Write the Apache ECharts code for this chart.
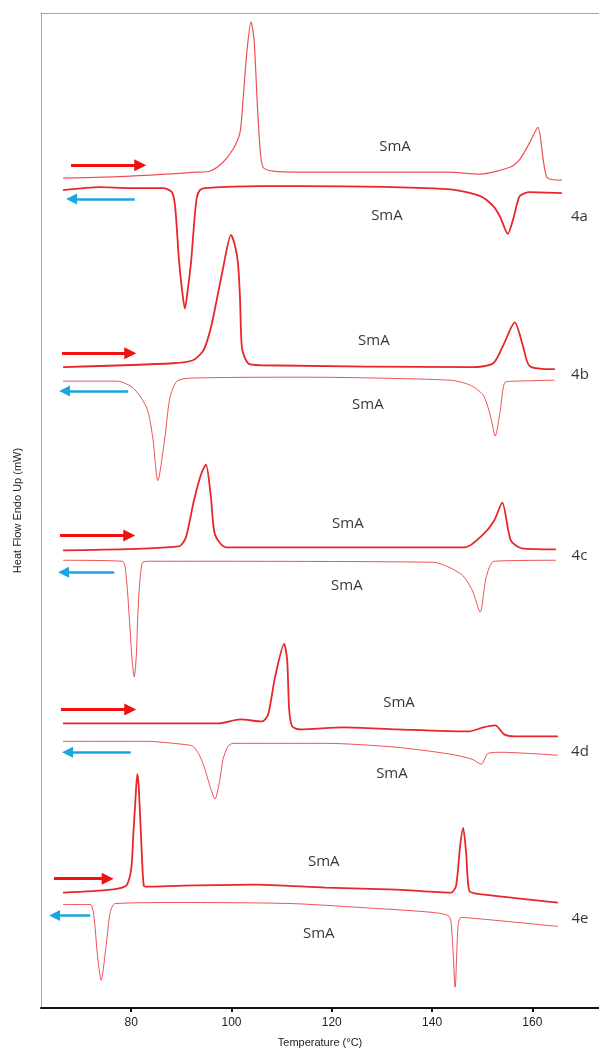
<!DOCTYPE html>
<html>
<head>
<meta charset="utf-8">
<script src="https://cdn.jsdelivr.net/npm/echarts@6/dist/echarts.min.js"></script>
<style>
  html, body { margin: 0; padding: 0; background: #fff; }
  #chart { width: 599px; height: 1053px; }
</style>
</head>
<body>
<div id="chart"></div>
<script>
// temperature (°C) vs heat flow (arbitrary offset units, endo up)
const tickLabels = [80, 100, 120, 140, 160];

const heating4a = [[66.4,834],[79.8,836],[93.1,840],[95.7,841],[98.3,850],[100.3,863],[101.7,880],[102.3,913],[103.1,963],[103.9,991],[104.5,973],[105.1,913],[105.7,863],[106.3,845],[108.3,841],[113.7,840],[143.0,840],[149.6,838],[155.5,845],[157.5,853],[159.5,870],[161.1,885],[162.9,835],[165.9,832]];
const cooling4a = [[66.4,822],[73.8,825],[79.8,824],[86.3,824],[88.1,820],[88.7,808],[89.1,783],[89.5,753],[90.1,723],[90.7,703],[91.3,723],[91.9,748],[92.3,773],[92.7,798],[93.1,815],[93.7,822],[94.7,824],[105.7,826],[113.7,826],[143.0,823],[149.6,816],[152.2,806],[153.6,795],[155.1,778],[156.3,795],[157.5,816],[159.5,820],[165.9,819]];

const heating4b = [[66.4,644],[88.3,648],[92.3,651],[94.3,660],[95.3,673],[96.3,693],[98.3,743],[99.9,777],[100.7,766],[101.3,748],[101.7,713],[102.1,663],[103.3,648],[105.7,646],[148.2,644],[152.2,648],[154.2,666],[156.5,689],[158.1,666],[159.5,645],[164.5,642]];
const cooling4b = [[66.4,630],[77.2,630],[80.4,623],[83.1,603],[84.3,573],[85.3,530],[86.7,573],[87.7,613],[89.1,630],[91.7,633],[113.7,634],[143.6,631],[147.6,626],[150.2,616],[151.6,596],[152.6,575],[153.6,600],[154.6,629],[156.9,630],[164.5,631]];

const heating4c = [[66.4,460],[89.5,464],[90.9,473],[92.5,510],[93.9,536],[94.9,546],[95.9,513],[96.7,476],[98.9,463],[146.6,463],[150.2,476],[152.4,490],[154.0,508],[155.7,470],[157.9,462],[164.7,461]];
const cooling4c = [[66.4,450],[78.2,449],[79.0,433],[79.6,393],[80.2,348],[80.6,333],[81.0,353],[81.3,393],[81.7,428],[82.3,448],[83.7,449],[140.2,448],[145.8,436],[148.0,420],[149.6,398],[150.8,433],[152.4,449],[164.7,450]];

const heating4d = [[66.4,286],[97.5,286],[101.7,290],[106.1,288],[107.3,295],[108.7,333],[110.5,366],[111.1,350],[111.5,300],[112.1,283],[113.7,280],[122.4,282],[133.0,280],[147.4,278],[150.2,282],[152.6,284],[154.4,275],[156.5,273],[165.1,273]];
const cooling4d = [[66.4,268],[83.1,268],[90.3,265],[92.3,263],[93.7,253],[94.7,240],[95.7,223],[96.7,210],[97.7,230],[98.3,250],[99.3,263],[100.3,266],[118.8,266],[133.0,262],[143.8,255],[148.0,250],[149.8,245],[151.2,256],[153.8,257],[165.1,254]];

const heating4e = [[66.4,116],[76.0,119],[79.0,123],[80.0,140],[80.4,173],[80.8,206],[81.2,235],[81.5,222],[82.1,156],[82.5,123],[83.1,122],[90.3,123],[104.5,124],[118.8,121],[133.0,119],[143.8,116],[144.8,123],[145.6,163],[146.2,181],[146.8,156],[147.4,118],[148.8,115],[165.1,106]];
const cooling4e = [[66.4,104],[71.8,104],[72.6,90],[73.2,56],[74.0,28],[75.0,63],[75.8,96],[76.8,105],[90.3,106],[111.7,105],[125.8,101],[140.2,96],[143.4,92],[144.0,73],[144.6,21],[145.2,83],[145.8,91],[150.8,89],[165.1,82]];

// text annotations [T, H, text]
const phaseLabels = [[132.6,866,'SmA'],[131.0,796,'SmA'],[128.4,671,'SmA'],[127.2,606,'SmA'],[123.2,487,'SmA'],[123.0,424,'SmA'],[133.4,307,'SmA'],[132.0,235,'SmA'],[118.4,147,'SmA'],[117.4,75,'SmA']];
const sampleLabels = [[169.4,795,'4a'],[169.5,636,'4b'],[169.4,455,'4c'],[169.5,258,'4d'],[169.5,90,'4e']];

// arrows [fromT, toT, H]
const heatArrows = [[68.0,81.8,847],[66.2,79.8,658],[65.8,79.6,475],[66.0,79.8,300],[64.6,75.3,130]];
const coolArrows = [[80.7,68.1,813],[79.4,66.7,620],[76.6,66.5,438],[79.9,67.3,257],[71.8,64.7,93]];

const RED = '#e8262b';
const FRAME = '#a6a6a6';
const curves = [
  [heating4a, 1.2, 0.8], [cooling4a, 1.8, 1],
  [heating4b, 1.8, 1], [cooling4b, 1, 0.8],
  [heating4c, 1.8, 1], [cooling4c, 1, 0.8],
  [heating4d, 1.8, 1], [cooling4d, 1, 0.8],
  [heating4e, 1.8, 1], [cooling4e, 1, 0.8]
];

const series = curves.map(c => ({
  type: 'line',
  data: c[0],
  showSymbol: false,
  smooth: 0.25,
  lineStyle: { color: RED, width: c[1], opacity: c[2] },
  silent: true
}));

function arrowSeries(list, color, width, size) {
  return {
    type: 'lines',
    coordinateSystem: 'cartesian2d',
    symbol: ['none', 'triangle'],
    symbolSize: size,
    lineStyle: { color: color, width: width, opacity: 1 },
    data: list.map(a => ({ coords: [[a[0], a[2]], [a[1], a[2]]] })),
    silent: true
  };
}
series.push(arrowSeries(heatArrows, '#f01010', 3, 12));
series.push(arrowSeries(coolArrows, '#1aa7e0', 2.5, 11));

function textSeries(list, size) {
  return {
    type: 'scatter',
    symbolSize: 0,
    data: list.map(l => ({ value: [l[0], l[1]], name: l[2] })),
    label: {
      show: true, position: 'inside', formatter: '{b}',
      color: '#000', fontSize: size, fontFamily: 'Open Sans'
    },
    silent: true
  };
}
series.push(textSeries(phaseLabels, 15));
series.push(textSeries(sampleLabels, 15));

const chart = echarts.init(document.getElementById('chart'), null, { renderer: 'canvas' });
chart.setOption({
  animation: false,
  backgroundColor: '#fff',
  grid: { left: 41, right: 0, top: 13, bottom: 40 },
  xAxis: [{
    type: 'value',
    min: 62, max: 173.3,
    name: 'Temperature (°C)',
    nameLocation: 'middle',
    nameGap: 29,
    nameTextStyle: { fontFamily: 'Liberation Sans', fontSize: 11, color: '#222' },
    axisLine: { lineStyle: { color: '#111', width: 2 } },
    axisTick: { show: true, length: 4, lineStyle: { color: '#111', width: 2 }, customValues: tickLabels },
    axisLabel: { customValues: tickLabels, margin: 9, fontFamily: 'Liberation Sans', fontSize: 12, color: '#222' },
    splitLine: { show: false }
  }, {
    type: 'value',
    position: 'top',
    min: 62, max: 173.3,
    axisLine: { lineStyle: { color: FRAME, width: 1 } },
    axisTick: { show: false },
    axisLabel: { show: false },
    splitLine: { show: false }
  }],
  yAxis: {
    type: 'value',
    min: 0, max: 1000,
    name: 'Heat Flow Endo Up (mW)',
    nameLocation: 'middle',
    nameGap: 18,
    nameTextStyle: { fontFamily: 'Liberation Sans', fontSize: 11, color: '#222' },
    axisLine: { show: true, lineStyle: { color: FRAME, width: 1 } },
    axisTick: { show: false },
    axisLabel: { show: false },
    splitLine: { show: false }
  },
  series: series
});
</script>
</body>
</html>
